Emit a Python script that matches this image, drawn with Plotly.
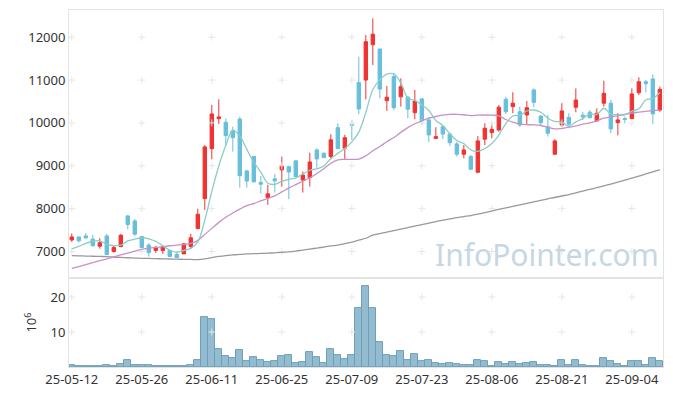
import plotly.graph_objects as go

dates = [
    "25-05-12","25-05-13","25-05-14","25-05-15","25-05-16","25-05-19","25-05-20","25-05-21","25-05-22","25-05-23",
    "25-05-26","25-05-27","25-05-28","25-05-29","25-05-30","25-06-02","25-06-04","25-06-05","25-06-09","25-06-10",
    "25-06-11","25-06-12","25-06-13","25-06-16","25-06-17","25-06-18","25-06-19","25-06-20","25-06-23","25-06-24",
    "25-06-25","25-06-26","25-06-27","25-06-30","25-07-01","25-07-02","25-07-03","25-07-04","25-07-07","25-07-08",
    "25-07-09","25-07-10","25-07-11","25-07-14","25-07-15","25-07-16","25-07-17","25-07-18","25-07-21","25-07-22",
    "25-07-23","25-07-24","25-07-25","25-07-28","25-07-29","25-07-30","25-07-31","25-08-01","25-08-04","25-08-05",
    "25-08-06","25-08-07","25-08-08","25-08-11","25-08-12","25-08-13","25-08-14","25-08-18","25-08-19","25-08-20",
    "25-08-21","25-08-22","25-08-25","25-08-26","25-08-27","25-08-28","25-08-29","25-09-01","25-09-02","25-09-03",
    "25-09-04","25-09-05","25-09-08","25-09-09","25-09-10",
]

opens = [7270,7340,7365,7290,7125,7365,7000,7115,7830,7715,
         7350,7150,7025,7025,7025,6930,6945,7115,7535,8235,
         9400,10100,10015,9820,10090,8880,9215,8610,8260,8695,
         8905,8980,9115,8670,8725,9370,9295,9215,9890,9410,
         9960,10940,11000,11825,11725,10520,11080,10610,10600,10240,
         10560,10070,9640,9910,9740,9510,9270,9215,8850,9620,
         9775,9835,10550,10380,10260,10185,10770,10160,9910,9270,
         9950,10130,10365,10180,10250,10045,10460,10460,10005,10100,
         10100,10705,10960,11025,10300]
highs = [7420,7345,7430,7390,7310,7410,7135,7410,7855,7755,
         7360,7195,7135,7150,7040,6995,7195,7410,8000,9485,
         10420,10550,10100,9910,10145,8905,9220,8765,8555,8810,
         9215,9005,9120,8865,9305,9410,9300,9735,9990,9720,
         10070,11545,12050,12440,11730,10860,11170,11040,10630,10770,
         10575,10130,9900,9950,9775,9560,9485,9255,9695,9990,
         9970,10420,10610,10715,10380,10510,10805,10185,10185,9620,
         10460,10225,10805,10260,10300,10340,10985,10535,10230,10145,
         10805,11065,11000,11135,10845]
lows = [7225,7210,7290,7115,7065,6915,6975,7100,7520,7365,
        7090,6885,6965,6945,6865,6845,6940,7070,7520,7970,
        9155,9975,9485,9330,8490,8490,8615,8360,8090,8375,
        8515,8220,8745,8375,8515,8955,9185,9175,9390,9155,
        9605,10200,10550,11350,10575,10280,10300,10380,10110,10085,
        9950,9550,9630,9620,9465,9215,9175,8905,8825,9485,
        9640,9795,10210,10225,9910,9975,10365,9950,9680,9255,
        9915,9875,10250,10070,10110,10030,10380,9760,9710,9990,
        10085,10650,10715,9975,10260]
closes = [7340,7250,7320,7135,7205,6930,7095,7380,7630,7405,
          7095,6975,7080,7115,6885,6860,7180,7320,7870,9440,
          10210,10140,9705,9655,8770,8645,8625,8570,8345,8650,
          9000,8855,8750,8785,9090,9160,9190,9605,9400,9655,
          9945,10325,11895,12070,10790,10600,10355,10845,10320,10510,
          10050,9720,9680,9740,9540,9270,9370,8920,9580,9875,
          9850,10365,10260,10460,9950,10355,10480,10005,9760,9580,
          10280,9970,10535,10140,10120,10225,10690,9860,10070,10085,
          10675,10960,10915,10210,10785]

ma5 = [7060,7120,7190,7240,7250,7168,7137,7149,7248,7288,
       7321,7297,7237,7134,7030,6983,7024,7072,7223,7734,
       8404,8996,9473,9830,9696,9383,9080,8853,8591,8567,
       8638,8684,8720,8808,8896,8928,8995,9166,9289,9402,
       9559,9786,10244,10778,11005,11136,11142,10932,10582,10526,
       10416,10289,10056,9940,9746,9590,9520,9368,9336,9403,
       9519,9718,9986,10162,10177,10278,10301,10250,10110,10036,
       10021,9919,10025,10101,10209,10198,10342,10207,10193,10186,
       10276,10330,10541,10569,10709]
ma20 = [6605,6650,6695,6740,6785,6830,6875,6920,6965,7010,
        7050,7075,7095,7115,7135,7150,7165,7190,7260,7400,
        7540,7680,7800,7900,7990,8070,8120,8180,8240,8300,
        8390,8480,8560,8640,8720,8820,8930,9060,9140,9150,
        9150,9155,9230,9350,9450,9560,9660,9780,9890,9980,
        10050,10110,10150,10180,10200,10200,10190,10170,10180,10185,
        10180,10165,10080,10020,9980,9960,9955,9940,9900,9860,
        9870,9900,9930,9970,10000,10050,10110,10140,10170,10200,
        10230,10250,10270,10285,10300]
ma60 = [6905,6900,6895,6890,6885,6880,6870,6862,6855,6848,
        6842,6838,6834,6830,6826,6822,6818,6815,6812,6830,
        6860,6885,6905,6920,6935,6943,6950,6955,6962,6970,
        6978,6990,7010,7035,7058,7080,7105,7130,7150,7185,
        7220,7265,7310,7380,7420,7455,7490,7525,7560,7590,
        7625,7660,7700,7730,7760,7790,7815,7840,7870,7910,
        7945,7985,8020,8055,8090,8125,8160,8195,8230,8260,
        8295,8330,8370,8410,8450,8490,8530,8575,8620,8665,
        8710,8760,8810,8860,8905]

volume_m = [0.57,0.3,0.3,0.3,0.3,0.57,0.3,0.86,2.0,0.57,
            0.57,0.57,0.3,0.3,0.3,0.3,0.3,0.57,2.0,14.2,
            13.7,5.1,3.1,2.6,4.9,1.7,2.9,2.0,1.4,1.7,
            3.1,3.4,1.1,1.4,4.3,2.9,1.1,5.1,3.4,2.3,
            3.4,16.9,23.2,16.9,7.1,3.4,3.1,4.6,2.0,3.7,
            1.7,2.0,1.1,0.86,1.1,0.86,0.57,0.57,2.0,1.7,
            0.3,1.4,0.86,1.4,0.86,1.1,1.4,0.57,0.57,0.3,
            2.0,0.57,2.0,0.57,0.3,0.3,2.6,1.7,0.86,0.3,
            1.7,1.7,0.57,2.6,1.7]

price_ticks = [7000, 8000, 9000, 10000, 11000, 12000]
vol_ticks = [10, 20]
x_tick_labels = dates[0::10]

RED = "#ee3333"
BLUE = "#67bfdb"
FONT = "Noto Sans"

fig = go.Figure()

# grid crosses at tick intersections
cross = dict(symbol="cross-thin", size=5, line=dict(color="#e6e6e6", width=1))
gx, gy = [], []
for d in x_tick_labels:
    for v in price_ticks:
        gx.append(d); gy.append(v)
fig.add_trace(go.Scatter(x=gx, y=gy, mode="markers", xaxis="x", yaxis="y",
                         marker=cross, hoverinfo="skip", showlegend=False))
vx, vy = [], []
for d in x_tick_labels:
    for v in vol_ticks:
        vx.append(d); vy.append(v)
fig.add_trace(go.Scatter(x=vx, y=vy, mode="markers", xaxis="x2", yaxis="y2",
                         marker=cross, hoverinfo="skip", showlegend=False))

fig.add_trace(go.Candlestick(
    x=dates, open=opens, high=highs, low=lows, close=closes,
    increasing=dict(line=dict(color=RED, width=1), fillcolor=RED),
    decreasing=dict(line=dict(color=BLUE, width=1), fillcolor=BLUE),
    whiskerwidth=0, xaxis="x", yaxis="y", showlegend=False, hoverinfo="skip"))

fig.add_trace(go.Bar(x=dates, y=volume_m, xaxis="x2", yaxis="y2",
                     marker=dict(color="#93bcd0", line=dict(color="#6f9fb8", width=1)),
                     showlegend=False))

fig.add_trace(go.Scatter(x=dates, y=ma60, mode="lines", xaxis="x", yaxis="y",
                         line=dict(color="#999999", width=1.3, shape="spline"), showlegend=False))
fig.add_trace(go.Scatter(x=dates, y=ma20, mode="lines", xaxis="x", yaxis="y",
                         line=dict(color="#c890c8", width=1.3, shape="spline"), showlegend=False))
fig.add_trace(go.Scatter(x=dates, y=ma5, mode="lines", xaxis="x", yaxis="y",
                         line=dict(color="#8acdc6", width=1.3, shape="spline"), showlegend=False))

fig.add_annotation(text="InfoPointer.com", xref="paper", yref="paper",
                   x=0.996, y=0.252, xanchor="right", yanchor="bottom", showarrow=False,
                   font=dict(family=FONT, size=30, color="#c6d7e3"))

axis_common = dict(showline=True, mirror=True, linecolor="#e3e3e3", linewidth=1,
                   showgrid=False, zeroline=False, ticks="", automargin=False)
fig.update_layout(
    width=665, height=388,
    margin=dict(l=61, r=10, t=2, b=29),
    paper_bgcolor="white", plot_bgcolor="white",
    font=dict(family=FONT, size=13, color="#333333"),
    bargap=0,
    xaxis=dict(type="category", categoryorder="array", categoryarray=dates,
               domain=[0, 1], anchor="y", range=[-0.4, 84.45],
               showticklabels=False, rangeslider=dict(visible=False), **axis_common),
    yaxis=dict(domain=[0.249, 1], range=[6380, 12634], tickvals=price_ticks, tickformat="d",
               tickfont=dict(size=13, color="#333333"), **axis_common),
    xaxis2=dict(type="category", categoryorder="array", categoryarray=dates,
                domain=[0, 1], anchor="y2", range=[-0.4, 84.45],
                tickvals=x_tick_labels, ticktext=x_tick_labels, tickangle=0,
                tickfont=dict(size=13, color="#333333"), **axis_common),
    yaxis2=dict(domain=[0, 0.249], range=[0, 25.4], tickvals=vol_ticks, tickformat="d",
                title=dict(text="10<sup>6</sup>", font=dict(size=13, color="#333333"), standoff=10),
                tickfont=dict(size=13, color="#333333"), **axis_common),
)

fig.write_html("out.html")
